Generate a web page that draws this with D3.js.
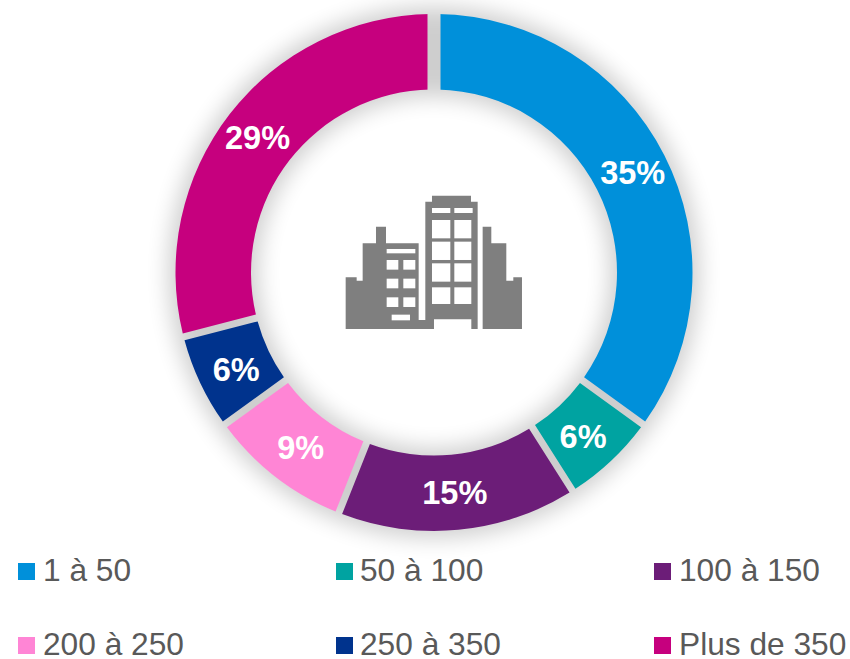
<!DOCTYPE html>
<html><head><meta charset="utf-8">
<script src="https://cdn.jsdelivr.net/npm/d3@7/dist/d3.min.js"></script>
<style>html,body{margin:0;padding:0;background:#fff}svg{display:block}</style></head>
<body><svg id="c" width="850" height="659"></svg>
<script>
const categories = ["1 à 50","50 à 100","100 à 150","200 à 250","250 à 350","Plus de 350"];
const values = [35,6,15,9,6,29];
const colors = ["#0090DA","#00A3A1","#6C1D78","#FF85D5","#00338D","#C6007E"];
const svg = d3.select("#c");
const cx = 434, cy = 272.5, R = 258.5, r = 183;
const defs = svg.append("defs");
const f = defs.append("filter").attr("id","sh").attr("x","-20%").attr("y","-20%").attr("width","140%").attr("height","140%");
f.append("feGaussianBlur").attr("stdDeviation",11);
defs.append("clipPath").attr("id","topgap").append("path")
 .attr("clip-rule","evenodd").attr("d","M-500,-500H500V500H-500Z M-6.5,-300H6.5V-100H-6.5Z");
const pie = d3.pie().sort(null).value(d=>d);
const arcs = pie(values);
const arc = d3.arc().innerRadius(r).outerRadius(R);
const padArc = d3.arc().innerRadius(r).outerRadius(R).padRadius(221).padAngle(7/221);
const g = svg.append("g").attr("transform",`translate(${cx},${cy})`);
g.append("path").attr("d",d3.arc().innerRadius(r-7).outerRadius(R+7).startAngle(0).endAngle(2*Math.PI)())
 .attr("fill","#000").attr("opacity",0.19).attr("filter","url(#sh)");
const cl = g.append("g").attr("clip-path","url(#topgap)");
cl.selectAll("path.s").data(arcs).join("path").attr("class","s")
 .attr("d",d=>padArc({startAngle:d.startAngle,endAngle:d.endAngle}))
 .attr("fill",(d,i)=>colors[i]);
const labelNudge = [[2,0],[-2,3],[0,0],[2,1],[2,3],[-2,0]];
g.selectAll("text.v").data(arcs).join("text").attr("class","v")
 .attr("x",(d,i)=>arc.centroid(d)[0]+labelNudge[i][0]).attr("y",(d,i)=>arc.centroid(d)[1]+11.5+labelNudge[i][1])
 .attr("text-anchor","middle").attr("font-family","Liberation Sans").attr("font-weight","bold").attr("font-size",32.5)
 .attr("fill","#fff").text(d=>d.value+"%");
// icon
const ic = svg.append("g").attr("transform","translate(320,180) scale(0.3333)");
const grey="#7f7f7f";
const polys=[[[77,292],[110,292],[110,302],[128,302],[128,190],[168,190],[168,140],[198,140],[198,190],[296,190],[296,420],[316,420],[316,65],[336,65],[336,47],[453,47],[453,65],[473,65],[473,447],[454,447],[454,418],[342,418],[342,447],[77,447]],
[[488,140],[514,140],[514,190],[559,190],[559,302],[580,302],[580,292],[606,292],[606,447],[488,447]]];
ic.selectAll("polygon").data(polys).join("polygon").attr("points",d=>d.join(" ")).attr("fill",grey);
const wins=[[200,207,86,13],[200,240,35,29],[250,240,36,29],[200,296,35,29],[250,296,36,29],[200,352,35,29],[250,352,36,29],[215,404,55,17],
[336,84,55,15],[403,84,55,15],[336,120,55,55],[403,120,51,55],[336,185,55,55],[403,185,51,55],[336,250,55,55],[403,250,51,55],[336,322,55,50],[403,322,51,50]];
ic.selectAll("rect").data(wins).join("rect").attr("x",d=>d[0]).attr("y",d=>d[1]).attr("width",d=>d[2]).attr("height",d=>d[3]).attr("fill","#fff");
// legend
const lx=d3.scaleOrdinal().domain([0,1,2]).range([18,336,654]);
const ly=d3.scaleOrdinal().domain([0,1]).range([563,637]);
const lg=svg.selectAll("g.l").data(categories).join("g").attr("class","l")
 .attr("transform",(d,i)=>`translate(${lx(i%3)},${ly(Math.floor(i/3))})`);
lg.append("rect").attr("width",17).attr("height",17).attr("fill",(d,i)=>colors[i]);
lg.append("text").attr("x",(d,i)=>i%3==1?24:25).attr("y",18).attr("font-family","Liberation Sans").attr("font-size",31.7).attr("fill","#595959").text(d=>d);
</script></body></html>
